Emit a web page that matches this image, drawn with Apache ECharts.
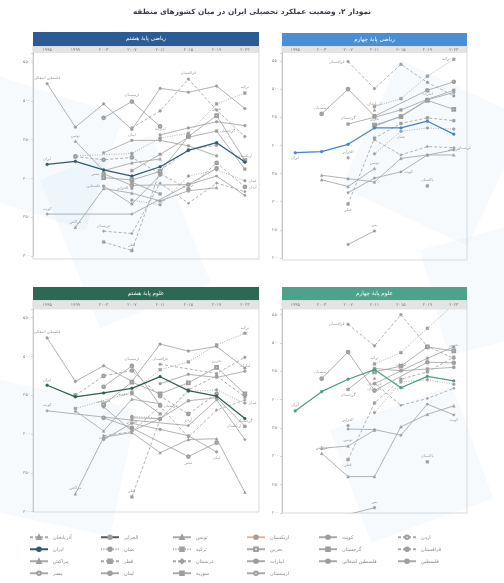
<!DOCTYPE html>
<html><head><meta charset="utf-8">
<script src="https://cdn.jsdelivr.net/npm/echarts@6/dist/echarts.min.js"></script>
<style>html,body{margin:0;padding:0;background:#fff}#c{width:504px;height:583px}</style>
</head><body><div id="c"></div><script>
// ---------- categories ----------
const years8 = ['۱۹۹۵','۱۹۹۹','۲۰۰۳','۲۰۰۷','۲۰۱۱','۲۰۱۵','۲۰۱۹','۲۰۲۳'];
const years4 = ['۱۹۹۵','۲۰۰۳','۲۰۰۷','۲۰۱۱','۲۰۱۵','۲۰۱۹','۲۰۲۳'];
const ticks8 = [300,350,400,450,500,550];
const ticks4 = [200,250,300,350,400,450,500,550];

// ---------- math grade 8 ----------
const m8_Israel     = [522,466,496,463,516,511,519,490];
const m8_Iran       = [418,422,411,403,415,436,446,421];
const m8_Turkey     = [null,429,null,432,452,458,496,510];
const m8_Kazakhstan = [null,null,null,465,487,528,488,454];
const m8_Armenia    = [null,null,478,499,467,null,null,null];
const m8_Lebanon    = [null,null,433,449,449,442,429,null];
const m8_Jordan     = [null,428,424,427,406,386,420,389];
const m8_Tunisia    = [null,448,410,420,425,null,null,null];
const m8_Kuwait     = [354,null,null,354,null,392,403,378];
const m8_Morocco    = [null,337,387,381,371,384,388,null];
const m8_Egypt      = [null,null,406,391,null,392,413,null];
const m8_Saudi      = [null,null,332,329,394,368,394,383];
const m8_Qatar      = [null,null,318,307,410,437,443,null];
const m8_Bahrain    = [null,null,401,398,409,454,481,423];
const m8_UAE        = [null,null,null,null,456,465,473,468];
const m8_Oman       = [null,null,null,372,366,403,411,397];
const m8_Georgia    = [null,null,null,410,431,453,461,412];
const m8_Syria      = [null,null,null,395,380,null,null,null];
const m8_Algeria    = [null,null,null,387,null,null,null,null];
const m8_Palestine  = [null,null,390,367,404,null,null,null];
const m8_Uzbekistan = [null,null,null,null,null,null,null,421];

// ---------- math grade 4 ----------
const m4_Iran       = [387,389,402,431,431,443,420];
const m4_Kazakhstan = [null,null,549,501,544,512,488];
const m4_Turkey     = [null,null,null,469,483,523,553];
const m4_Armenia    = [null,456,500,452,null,498,513];
const m4_Georgia    = [null,null,438,450,463,482,498];
const m4_Bahrain    = [null,null,null,436,451,480,464];
const m4_UAE        = [null,null,null,434,452,481,494];
const m4_Qatar      = [null,null,296,413,439,449,444];
const m4_Oman       = [null,null,null,385,425,431,429];
const m4_Saudi      = [null,null,null,410,383,398,396];
const m4_Kuwait     = [null,null,316,342,353,383,392];
const m4_Morocco    = [null,347,341,335,377,383,383];
const m4_Tunisia    = [null,339,327,359,null,null,null];
const m4_Yemen      = [null,null,224,248,null,null,null];
const m4_Pakistan   = [null,null,null,null,null,328,null];
const m4_Algeria    = [null,null,378,null,null,null,null];
const m4_Azerbaijan = [null,null,null,463,null,null,null];

// ---------- science grade 8 ----------
const s8_Israel     = [524,468,488,468,516,507,513,485];
const s8_Iran       = [463,448,453,459,474,456,449,420];
const s8_Turkey     = [null,433,null,454,483,493,515,530];
const s8_Kazakhstan = [null,null,null,null,490,null,478,499];
const s8_Armenia    = [null,null,461,488,437,null,null,null];
const s8_Lebanon    = [null,null,393,414,406,398,377,null];
const s8_Jordan     = [null,450,475,482,449,426,452,null];
const s8_Tunisia    = [null,430,404,445,439,null,null,null];
const s8_Kuwait     = [430,null,null,418,null,411,444,393];
const s8_Morocco    = [null,323,396,402,376,393,394,325];
const s8_Egypt      = [null,null,421,408,null,371,389,null];
const s8_Saudi      = [null,null,398,403,436,396,431,444];
const s8_Qatar      = [null,null,null,319,419,457,475,448];
const s8_Bahrain    = [null,null,438,467,452,466,486,452];
const s8_UAE        = [null,null,null,null,465,477,473,481];
const s8_Oman       = [null,null,null,423,420,455,457,440];
const s8_Georgia    = [null,null,null,421,420,443,447,410];
const s8_Syria      = [null,null,null,452,426,null,null,null];
const s8_Algeria    = [null,null,null,408,null,null,null,null];
const s8_Palestine  = [null,null,435,404,420,null,null,null];
const s8_Uzbekistan = [null,null,null,null,null,null,null,410];

// ---------- science grade 4 ----------
const s4_Iran       = [380,414,436,453,421,441,433];
const s4_Kazakhstan = [null,null,533,495,550,494,473];
const s4_Turkey     = [null,null,null,463,483,526,568];
const s4_Armenia    = [null,437,484,416,null,466,465];
const s4_Georgia    = [null,null,418,455,451,454,457];
const s4_Bahrain    = [null,null,null,449,459,493,486];
const s4_UAE        = [null,null,null,428,451,473,493];
const s4_Qatar      = [null,null,294,394,436,449,475];
const s4_Oman       = [null,null,null,377,431,435,427];
const s4_Saudi      = [null,null,null,429,390,402,420];
const s4_Kuwait     = [null,null,348,347,337,392,373];
const s4_Morocco    = [null,305,264,264,352,374,389];
const s4_Tunisia    = [null,314,318,346,null,null,null];
const s4_Yemen      = [null,null,197,209,null,null,null];
const s4_Pakistan   = [null,null,null,null,null,290,null];
const s4_Algeria    = [null,null,354,null,null,null,null];
const s4_Azerbaijan = [null,null,null,438,null,null,null];

// ---------- styles ----------
const FONT = 'DejaVu Sans';
const GREY = '#a9a9a9';
const SYMC = '#9e9e9e';
const DASH = [3,2], DOT = [1,1.4];
const STY = {
  'اردن':{sym:'emptyCircle',dash:DASH}, 'قزاقستان':{sym:'circle',dash:DASH}, 'فلسطین':{sym:'circle'},
  'کویت':{sym:'circle',size:2.3}, 'گرجستان':{sym:'rect'}, 'فلسطین اشغالی':{sym:'circle'},
  'ازبکستان':{sym:'circle',line:'#ebb593'}, 'بحرین':{sym:'emptyRect'}, 'امارات':{sym:'circle'},
  'ارمنستان':{sym:'emptyCircle'}, 'تونس':{sym:'triangle'}, 'ترکیه':{sym:'rect',dash:DOT},
  'عربستان':{sym:'diamond',dash:DASH}, 'سوریه':{sym:'rect'}, 'الجزایر':{sym:'circle',line:'#4f5a68'},
  'عمان':{sym:'circle',dash:DOT}, 'قطر':{sym:'rect',dash:DASH}, 'لبنان':{sym:'circle'},
  'آذربایجان':{sym:'triangle',dash:DASH}, 'ایران':{sym:'circle'}, 'مراکش':{sym:'triangle'},
  'مصر':{sym:'emptyCircle'}, 'یمن':{sym:'circle'}, 'پاکستان':{sym:'rect'}
};
const IRANC = ['#2f5b6e','#3f86c9','#2c5f4c','#4b9e89'];

// series specs: [name, data, labelIndex, labelPosition]
const P0 = [
 ['فلسطین اشغالی',m8_Israel,0,'top'],['ارمنستان',m8_Armenia,3,'top'],['قزاقستان',m8_Kazakhstan,5,'top'],
 ['ترکیه',m8_Turkey,7,'top'],['لبنان',m8_Lebanon,3,'top'],['اردن',m8_Jordan,7,'right'],
 ['تونس',m8_Tunisia,1,'top'],['کویت',m8_Kuwait,0,'top'],['مراکش',m8_Morocco,1,'top'],
 ['مصر',m8_Egypt,2,'left'],['عربستان',m8_Saudi,2,'top'],['قطر',m8_Qatar,3,'top'],
 ['بحرین',m8_Bahrain,6,'top'],['امارات',m8_UAE,4,'top'],['عمان',m8_Oman,7,'right'],
 ['گرجستان',m8_Georgia,6,'right'],['سوریه',m8_Syria,4,'bottom'],['الجزایر',m8_Algeria,3,'left'],
 ['فلسطین',m8_Palestine,2,'left'],['ازبکستان',m8_Uzbekistan,7,'top'],['ایران',m8_Iran,0,'top']
];
const P1 = [
 ['قزاقستان',m4_Kazakhstan,2,'left'],['ترکیه',m4_Turkey,6,'left'],['ارمنستان',m4_Armenia,1,'top'],
 ['گرجستان',m4_Georgia,2,'top'],['بحرین',m4_Bahrain,3,'top'],['امارات',m4_UAE,5,'top'],
 ['قطر',m4_Qatar,2,'bottom'],['عمان',m4_Oman,4,'bottom'],['عربستان',m4_Saudi,6,'right'],
 ['کویت',m4_Kuwait,4,'right'],['مراکش',m4_Morocco,6,'top'],['تونس',m4_Tunisia,3,'top'],
 ['یمن',m4_Yemen,3,'top'],['پاکستان',m4_Pakistan,5,'top'],['الجزایر',m4_Algeria,2,'top'],
 ['آذربایجان',m4_Azerbaijan,3,'top'],['ایران',m4_Iran,0,'bottom']
];
const P2 = [
 ['فلسطین اشغالی',s8_Israel,0,'top'],['ترکیه',s8_Turkey,7,'top'],['قزاقستان',s8_Kazakhstan,4,'top'],
 ['ارمنستان',s8_Armenia,3,'top'],['لبنان',s8_Lebanon,6,'bottom'],['اردن',s8_Jordan,5,'bottom'],
 ['تونس',s8_Tunisia,2,'bottom'],['کویت',s8_Kuwait,0,'top'],['مراکش',s8_Morocco,1,'top'],
 ['مصر',s8_Egypt,5,'bottom'],['عربستان',s8_Saudi,4,'right'],['قطر',s8_Qatar,3,'top'],
 ['بحرین',s8_Bahrain,6,'top'],['امارات',s8_UAE,7,'top'],['عمان',s8_Oman,7,'right'],
 ['گرجستان',s8_Georgia,7,'top'],['سوریه',s8_Syria,3,'left'],['الجزایر',s8_Algeria,3,'top'],
 ['فلسطین',s8_Palestine,2,'top'],['ازبکستان',s8_Uzbekistan,7,'left'],['ایران',s8_Iran,0,'top']
];
const P3 = [
 ['قزاقستان',s4_Kazakhstan,2,'left'],['ترکیه',s4_Turkey,3,'top'],['ارمنستان',s4_Armenia,1,'top'],
 ['گرجستان',s4_Georgia,2,'bottom'],['بحرین',s4_Bahrain,6,'top'],['امارات',s4_UAE,4,'top'],
 ['قطر',s4_Qatar,2,'bottom'],['عمان',s4_Oman,4,'bottom'],['عربستان',s4_Saudi,3,'bottom'],
 ['کویت',s4_Kuwait,6,'bottom'],['مراکش',s4_Morocco,1,'top'],['تونس',s4_Tunisia,2,'top'],
 ['یمن',s4_Yemen,3,'top'],['پاکستان',s4_Pakistan,5,'top'],['الجزایر',s4_Algeria,2,'top'],
 ['آذربایجان',s4_Azerbaijan,3,'bottom'],['ایران',s4_Iran,0,'top']
];

// layout
const PANELS = [
 {x:33, w:226, hy:32, hh:14, by:46, bh:7,   top:53,    h:203,   bottom:259, min:300, max:561.6, years:years8, ticks:ticks8, color:'#2c5c93', title:'ریاضی پایهٔ هشتم', lm:1.5, specs:P0},
 {x:282,w:185, hy:33, hh:13, by:46, bh:7,   top:53,    h:205,   bottom:260, min:200, max:564.2, years:years4, ticks:ticks4, color:'#4a8fd6', title:'ریاضی پایهٔ چهارم', lm:1.5, specs:P1},
 {x:33, w:226, hy:287,hh:13, by:300,bh:9.5, top:309.5, h:202.2, bottom:512, min:300, max:560.6, years:years8, ticks:ticks8, color:'#2b6954', title:'علوم پایهٔ هشتم', lm:2.5, specs:P2},
 {x:282,w:185, hy:287,hh:13, by:300,bh:9.5, top:309.5, h:203.3, bottom:513, min:200, max:559.2, years:years4, ticks:ticks4, color:'#4ea28b', title:'علوم پایهٔ چهارم', lm:2.5, specs:P3}
];

const fa = n => String(n).replace(/\d/g, d => '۰۱۲۳۴۵۶۷۸۹'[d]);

const grids=[], xAxes=[], yAxes=[], series=[], graphics=[];
// faint background shapes
[[ -20,70,150,120,-18],[40,180,120,160,22],[400,60,140,140,-25],[420,250,110,110,15],[0,380,140,130,-12],[330,430,130,120,20]].forEach(b=>{
  graphics.push({type:'rect',x:b[0],y:b[1],rotation:b[4]*Math.PI/180,shape:{width:b[2],height:b[3]},style:{fill:'rgba(212,232,247,0.2)'},z:-10,silent:true});
});
graphics.push({type:'text',x:252,y:12,style:{text:'نمودار ۲. وضعیت عملکرد تحصیلی ایران در میان کشورهای منطقه',fontFamily:FONT,fontSize:7.4,fontWeight:'bold',fill:'#3a3a4a',align:'center',verticalAlign:'middle'},z:5});

PANELS.forEach((p,i)=>{
  grids.push({left:p.x, top:p.top, width:p.w, height:p.h});
  xAxes.push({gridIndex:i,type:'category',data:p.years,position:'top',boundaryGap:true,
    axisLine:{show:false},axisTick:{show:false},
    axisLabel:{fontSize:4.3,color:'#777',margin:p.lm,fontFamily:FONT,interval:0}});
  yAxes.push({gridIndex:i,type:'value',min:p.min,max:p.max,interval:50,splitLine:{show:false},
    axisLine:{show:true,lineStyle:{color:'#bdbdbd',width:0.8}},
    axisTick:{show:true,length:2,lineStyle:{color:'#bdbdbd',width:0.6}},
    axisLabel:{fontSize:4.3,color:'#888',margin:3,fontFamily:FONT,
      formatter:v => p.ticks.indexOf(v)>=0 ? fa(v) : ''}});
  graphics.push({type:'rect',shape:{x:p.x,y:p.hy,width:p.w,height:p.hh},style:{fill:p.color},z:1});
  graphics.push({type:'text',x:p.x+p.w/2,y:p.hy+p.hh/2,style:{text:p.title,fontFamily:FONT,fontSize:5.6,fill:'#fff',align:'center',verticalAlign:'middle'},z:2});
  graphics.push({type:'rect',shape:{x:p.x,y:p.by,width:p.w,height:p.bh},style:{fill:'#e4e4e4'},z:0});
  graphics.push({type:'rect',shape:{x:p.x,y:p.by,width:p.w,height:p.bottom-p.by},style:{fill:'none',stroke:'#d2d2d2',lineWidth:0.8},z:0});

  p.specs.forEach(sp=>{
    const [name,arr,li,pos] = sp;
    const st = STY[name];
    const isIran = name==='ایران';
    const lc = isIran ? IRANC[i] : (st.line || GREY);
    const sc = isIran ? IRANC[i] : SYMC;
    series.push({
      type:'line', name, xAxisIndex:i, yAxisIndex:i,
      data: arr.map((v,k)=> (k===li && v!=null) ? {value:v,label:{show:true,position:pos,formatter:name}} : v),
      connectNulls:true, showAllSymbol:true, symbol:st.sym, symbolSize:st.size||2.7,
      lineStyle:{color:lc,width:isIran?1.25:0.9,type:st.dash||'solid'},
      itemStyle:{color:sc,borderColor:sc,borderWidth:0.5},
      label:{show:false,fontSize:3.8,color:'#9a9a9a',fontFamily:FONT,distance:2},
      emphasis:{disabled:true}, silent:true, animation:false, z:isIran?4:2
    });
  });
});

// legends (columns, left to right)
const LEG = [
 [29, ['آذربایجان','ایران','مراکش','مصر']],
 [100,['الجزایر','عمان','قطر','لبنان']],
 [172,['تونس','ترکیه','عربستان','سوریه']],
 [246,['ازبکستان','بحرین','امارات','ارمنستان']],
 [318,['کویت','گرجستان','فلسطین اشغالی']],
 [397,['اردن','قزاقستان','فلسطین']]
];
const legends = LEG.map(c=>({left:c[0],top:534,orient:'vertical',itemWidth:18,itemHeight:4.5,itemGap:5.5,
  data:c[1],selectedMode:false,textStyle:{fontSize:5,color:'#8a8a8a',fontFamily:FONT,lineHeight:6.5},padding:0}));

const chart = echarts.init(document.getElementById('c'));
chart.setOption({backgroundColor:'#fff',animation:false,grid:grids,xAxis:xAxes,yAxis:yAxes,series,legend:legends,graphic:graphics});
</script></body></html>
